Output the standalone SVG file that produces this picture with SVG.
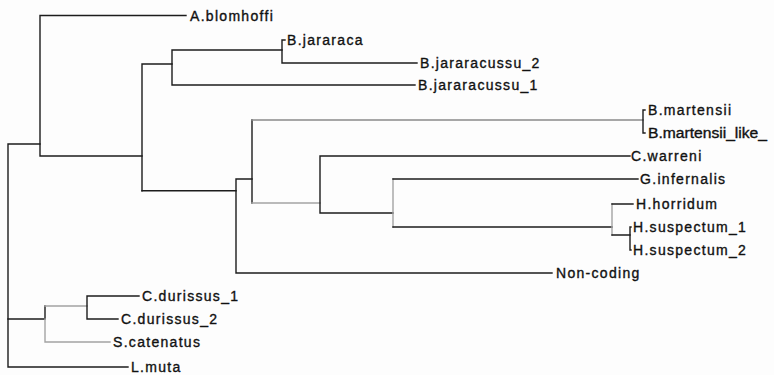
<svg xmlns="http://www.w3.org/2000/svg" width="774" height="375" viewBox="0 0 774 375">
  <style>
    .br { fill: none; stroke: #1c1c1c; stroke-width: 1.4; stroke-linecap: square; }
    .br.lt { stroke: #a3a3a3; }
    .br.md { stroke: #8a8a8a; }
    .lbl { font-family: "Liberation Sans", Arial, sans-serif; font-size: 14px; letter-spacing: 1.3px; fill: #111; stroke: #111; stroke-width: 0.35; }
    .fit { letter-spacing: 0; }
  </style>
  <rect width="774" height="375" fill="#fdfdfd"/>

  <!-- tree branches -->
  <g id="connectors">
    <!-- root -->
    <path class="br" d="M8,144 V367 M8,144 H40 M8,367 H128"/>
    <!-- A.blomhoffi and the upper clade -->
    <path class="br" d="M40,15.5 V156 M40,15.5 H186 M40,156 H142"/>
    <path class="br" d="M142,64 V190.7 M142,64 H172"/>
    <path class="br" d="M172,50 V85 M172,50 H282 M172,85 H415"/>
    <path class="br" d="M282,40 V63 M282,40 H285 M282,63 H417"/>
    <path class="br" d="M142,190.7 H236"/>
    <path class="br" d="M236,179 V273 M236,179 H252 M236,273 H552"/>
    <path class="br" d="M252,120 V203"/>
    <path class="br md" d="M252,120 H643"/>
    <path class="br" d="M643,110 V133 M643,110 H645 M643,133 H645"/>
    <path class="br lt" d="M252,203 H320"/>
    <path class="br" d="M320,156 V213 M320,156 H630 M320,213 H393"/>
    <path class="br lt" d="M393,179 V227"/>
    <path class="br" d="M393,179 H638 M393,227 H612"/>
    <path class="br lt" d="M612,204 V235"/>
    <path class="br" d="M612,204 H633 M612,235 H630"/>
    <path class="br" d="M630,227 V250 M630,227 H631 M630,250 H631"/>
    <!-- lower clade -->
    <path class="br" d="M8,319 H45 M45,306 V319"/>
    <path class="br lt" d="M45,319 V342 M45,306 H87 M45,342 H110"/>
    <path class="br" d="M87,296 V319 M87,296 H139 M87,319 H118"/>
  </g>

  <!-- leaf labels -->
  <g id="A_blomhoffi"><text class="lbl" x="190" y="20.5">A.blomhoffi</text></g>
  <g id="B_jararaca"><text class="lbl" x="287" y="45">B.jararaca</text></g>
  <g id="B_jararacussu_2"><text class="lbl" x="420" y="68">B.jararacussu_2</text></g>
  <g id="B_jararacussu_1"><text class="lbl" x="418" y="90">B.jararacussu_1</text></g>
  <g id="B_martensii"><text class="lbl" x="648" y="115">B.martensii</text></g>
  <g id="B_martensii_like"><text class="lbl fit" x="648" y="138" textLength="119" lengthAdjust="spacingAndGlyphs">B.martensii_like_</text></g>
  <g id="C_warreni"><text class="lbl" x="631" y="161">C.warreni</text></g>
  <g id="G_infernalis"><text class="lbl" x="640" y="184">G.infernalis</text></g>
  <g id="H_horridum"><text class="lbl" x="636" y="209">H.horridum</text></g>
  <g id="H_suspectum_1"><text class="lbl" x="633" y="232">H.suspectum_1</text></g>
  <g id="H_suspectum_2"><text class="lbl" x="633" y="255">H.suspectum_2</text></g>
  <g id="Non_coding"><text class="lbl" x="556" y="278">Non-coding</text></g>
  <g id="C_durissus_1"><text class="lbl" x="142" y="301">C.durissus_1</text></g>
  <g id="C_durissus_2"><text class="lbl" x="121" y="324">C.durissus_2</text></g>
  <g id="S_catenatus"><text class="lbl" x="113" y="347">S.catenatus</text></g>
  <g id="L_muta"><text class="lbl" x="131" y="372">L.muta</text></g>
</svg>
